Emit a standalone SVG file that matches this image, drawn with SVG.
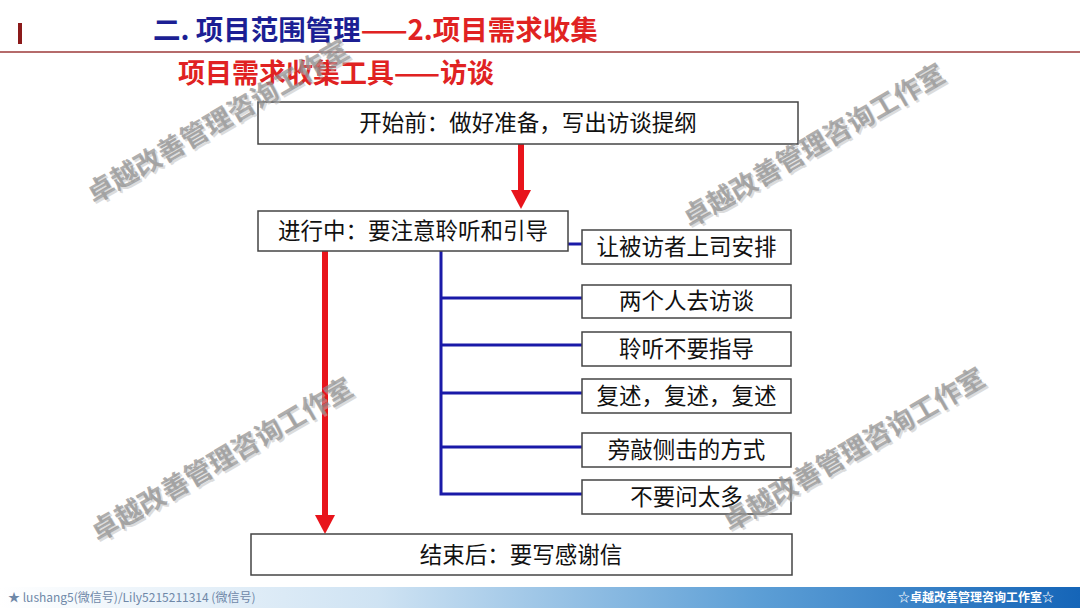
<svg xmlns="http://www.w3.org/2000/svg" width="1080" height="608" viewBox="0 0 1080 608">
<defs>
<linearGradient id="foot" x1="0" y1="0" x2="1" y2="0">
<stop offset="0" stop-color="#ffffff"/>
<stop offset="0.35" stop-color="#cfe3f3"/>
<stop offset="0.7" stop-color="#5d9fd6"/>
<stop offset="1" stop-color="#1565b8"/>
</linearGradient>
</defs>
<style>
.box{fill:#fff;stroke:#444;stroke-width:1.5}
.t{font-family:"Noto Sans CJK SC","Noto Sans",sans-serif;font-size:22.5px;fill:#111;text-anchor:middle}
.blue{stroke:#1a1aa8;stroke-width:3;fill:none}
.red{stroke:#e8141b;stroke-width:6;fill:none}
.wm{font-family:"Noto Sans CJK SC",sans-serif;font-size:27px;font-weight:bold;fill:#8c8c8c;opacity:0.7}
.wms{font-family:"Noto Sans CJK SC",sans-serif;font-size:27px;font-weight:bold;fill:#bbb;opacity:0.5}
</style>
<rect x="0" y="0" width="1080" height="608" fill="#fff"/>
<g id="header">
<rect x="18" y="23" width="4" height="21" fill="#8b1a1a"/>
<line x1="0" y1="52" x2="1080" y2="52" stroke="#9c3a3a" stroke-width="1.5"/>
<text x="153" y="40" font-family="Noto Sans CJK SC,sans-serif" font-size="27.5" font-weight="bold"><tspan fill="#1c1f94">二. 项目范围管理</tspan><tspan fill="#e02222">——2.项目需求收集</tspan></text>
<text x="336" y="83" text-anchor="middle" font-family="Noto Sans CJK SC,sans-serif" font-size="27" font-weight="bold" fill="#e02222">项目需求收集工具——访谈</text>
</g>
<g id="connectors">
<line class="red" x1="521" y1="144" x2="521" y2="190"/>
<path d="M511,190 L531,190 L521,209 Z" fill="#e8141b"/>
<line class="red" x1="325" y1="251" x2="325" y2="516"/>
<path d="M315,515 L335,515 L325,534 Z" fill="#e8141b"/>
<line class="blue" x1="568" y1="244" x2="582" y2="244"/>
<polyline class="blue" points="441,251 441,494 582,494"/>
<line class="blue" x1="441" y1="298" x2="582" y2="298"/>
<line class="blue" x1="441" y1="345" x2="582" y2="345"/>
<line class="blue" x1="441" y1="393" x2="582" y2="393"/>
<line class="blue" x1="441" y1="447" x2="582" y2="447"/>
</g>
<g id="n-start"><rect class="box" x="258" y="102" width="540" height="42"/><text class="t" x="528" y="131">开始前：做好准备，写出访谈提纲</text></g>
<g id="n-during"><rect class="box" x="258" y="211" width="310" height="40"/><text class="t" x="413" y="239">进行中：要注意聆听和引导</text></g>
<g id="n-b1"><rect class="box" x="582" y="230" width="209" height="34"/><text class="t" x="686.5" y="255">让被访者上司安排</text></g>
<g id="n-b2"><rect class="box" x="582" y="285" width="209" height="33"/><text class="t" x="686.5" y="309">两个人去访谈</text></g>
<g id="n-b3"><rect class="box" x="582" y="332" width="209" height="34"/><text class="t" x="686.5" y="357">聆听不要指导</text></g>
<g id="n-b4"><rect class="box" x="582" y="379" width="209" height="34"/><text class="t" x="686.5" y="404">复述，复述，复述</text></g>
<g id="n-b5"><rect class="box" x="582" y="433" width="209" height="34"/><text class="t" x="686.5" y="458">旁敲侧击的方式</text></g>
<g id="n-b6"><rect class="box" x="582" y="480" width="209" height="34"/><text class="t" x="686.5" y="505">不要问太多</text></g>
<g id="n-end"><rect class="box" x="251" y="534" width="541" height="41"/><text class="t" x="521" y="563">结束后：要写感谢信</text></g>
<g id="watermarks">
<text class="wms" transform="translate(96,206) rotate(-30)">卓越改善管理咨询工作室</text>
<text class="wm" transform="translate(94,204) rotate(-30)">卓越改善管理咨询工作室</text>
<text class="wms" transform="translate(692,230) rotate(-30)">卓越改善管理咨询工作室</text>
<text class="wm" transform="translate(690,228) rotate(-30)">卓越改善管理咨询工作室</text>
<text class="wms" transform="translate(100,544) rotate(-30)">卓越改善管理咨询工作室</text>
<text class="wm" transform="translate(98,542) rotate(-30)">卓越改善管理咨询工作室</text>
<text class="wms" transform="translate(732,534) rotate(-30)">卓越改善管理咨询工作室</text>
<text class="wm" transform="translate(730,532) rotate(-30)">卓越改善管理咨询工作室</text>
</g>
<g id="footer">
<rect x="0" y="587" width="1080" height="21" fill="url(#foot)"/>
<text x="8" y="602" font-family="Noto Sans CJK SC,sans-serif" font-size="12" fill="#6f88a8">★ lushang5(微信号)/Lily5215211314 (微信号)</text>
<text x="1054" y="602" text-anchor="end" font-family="Noto Sans CJK SC,sans-serif" font-size="12" font-weight="bold" fill="#ffffff">☆卓越改善管理咨询工作室☆</text>
</g>
</svg>
